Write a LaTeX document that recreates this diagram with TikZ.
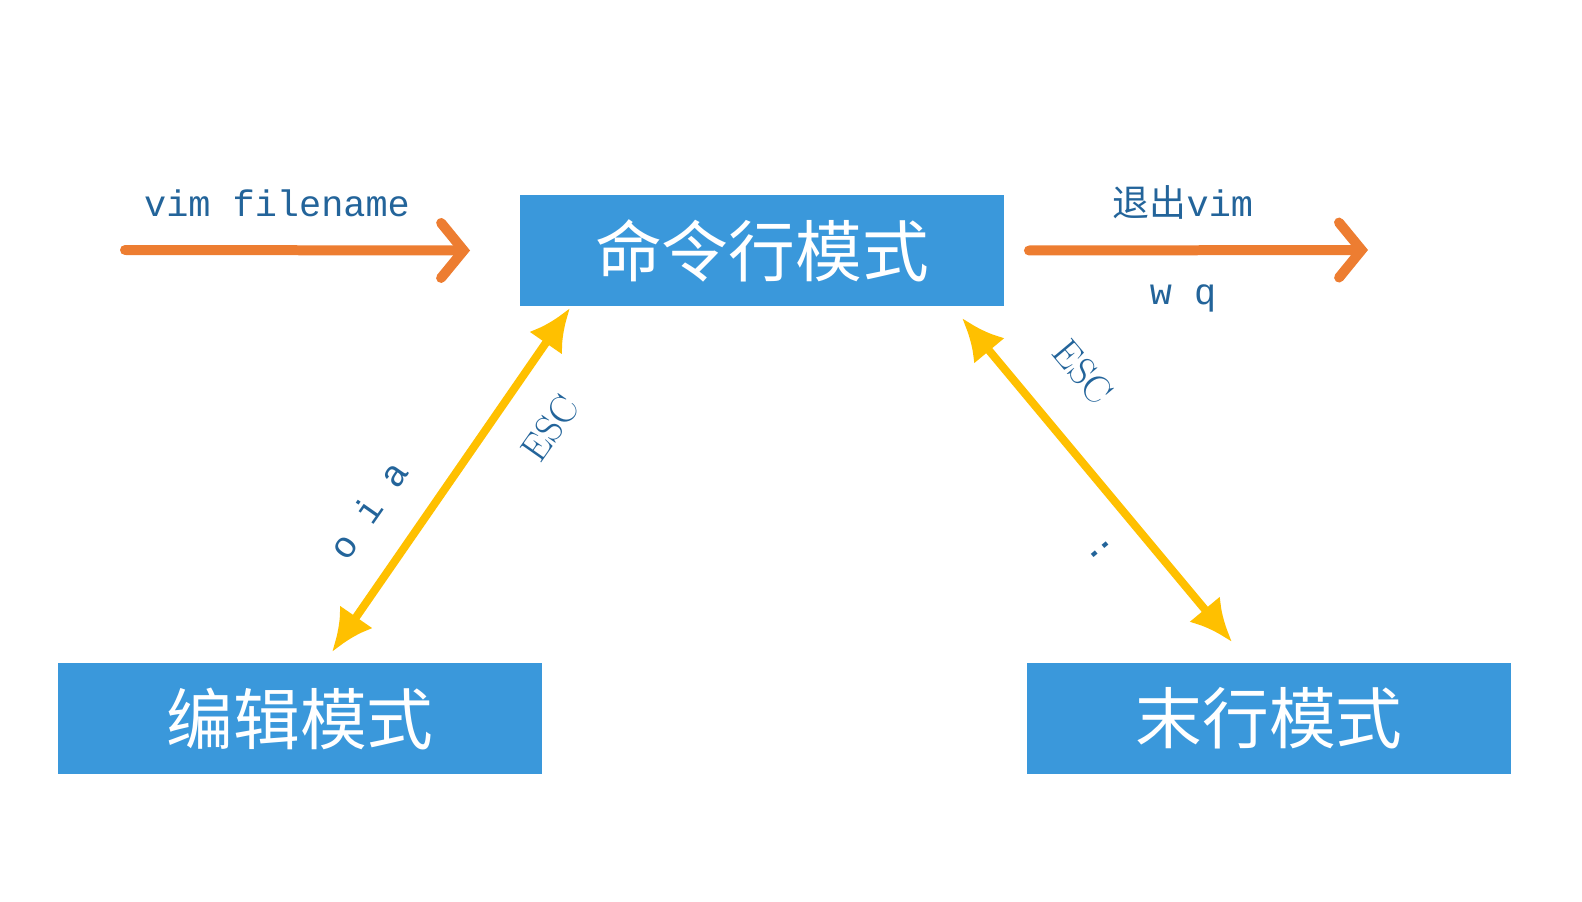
\documentclass[tikz,border=0pt]{standalone}
\usepackage{fontspec}
\newfontfamily\cjk{Noto Sans CJK SC}
\setmonofont{Liberation Mono}
\usetikzlibrary{arrows.meta, positioning}
\definecolor{boxblue}{HTML}{3A98DB}
\definecolor{arrorange}{HTML}{ED7D31}
\definecolor{arryellow}{HTML}{FFC000}
\definecolor{txtblue}{HTML}{23649A}
\tikzset{
  modebox/.style={fill=boxblue, text=white, minimum width=9.68cm, minimum height=2.22cm, outer sep=0pt, font=\cjk\fontsize{38}{38}\selectfont},
  entryarrow/.style={arrorange, line width=0.2cm, line cap=round, -{Straight Barb[length=0.45cm, width=1.1cm, line cap=round]}},
  switcharrow/.style={arryellow, line width=0.16cm, {Latex[length=0.85cm, width=0.8cm]}-{Latex[length=0.85cm, width=0.8cm]}},
  keylabel/.style={text=txtblue, inner sep=1pt, font=\ttfamily\fontsize{21}{21}\selectfont},
  esclabel/.style={keylabel, font=\rmfamily\fontsize{22}{22}\selectfont},
}
\begin{document}
\begin{tikzpicture}[x=0.02cm, y=-0.02cm]
  \useasboundingbox (0,0) rectangle (1582,902);
  % modes
  \node[modebox] (cmd) at (762,250.5) {命令行模式};
  \node[modebox] (edit) at (300,718.5) {编辑模式};
  \node[modebox] (last) at (1269,718.5) {末行模式};
  % enter and leave
  \coordinate (start) at (125,250);
  \coordinate (quit) at (1368,250);
  \draw[entryarrow] (start) -- ([xshift=-1cm]cmd.west);
  \draw[entryarrow] ([xshift=0.5cm]cmd.east) -- (quit);
  \node[keylabel] (vimf) at (277,203) {vim filename};
  \node[keylabel] (exit) at (1183,202) {{\cjk 退出}vim};
  \node[keylabel] (wq) at (1183,298) {w q};
  % switches
  \coordinate (cmdl) at (570,308);
  \coordinate (editt) at (332,652);
  \coordinate (cmdr) at (962,318);
  \coordinate (lastt) at (1232,642);
  \draw[switcharrow] (cmdl) -- (editt);
  \draw[switcharrow] (cmdr) -- (lastt);
  \node[esclabel, rotate=55] (esc1) at (550,428) {ESC};
  \node[keylabel, rotate=55] (oia) at (368,510) {o i a};
  \node[esclabel, rotate=-50] (esc2) at (1083,372) {ESC};
  \node[keylabel, rotate=-50] (colon) at (1100,550) {:};
\end{tikzpicture}
\end{document}
